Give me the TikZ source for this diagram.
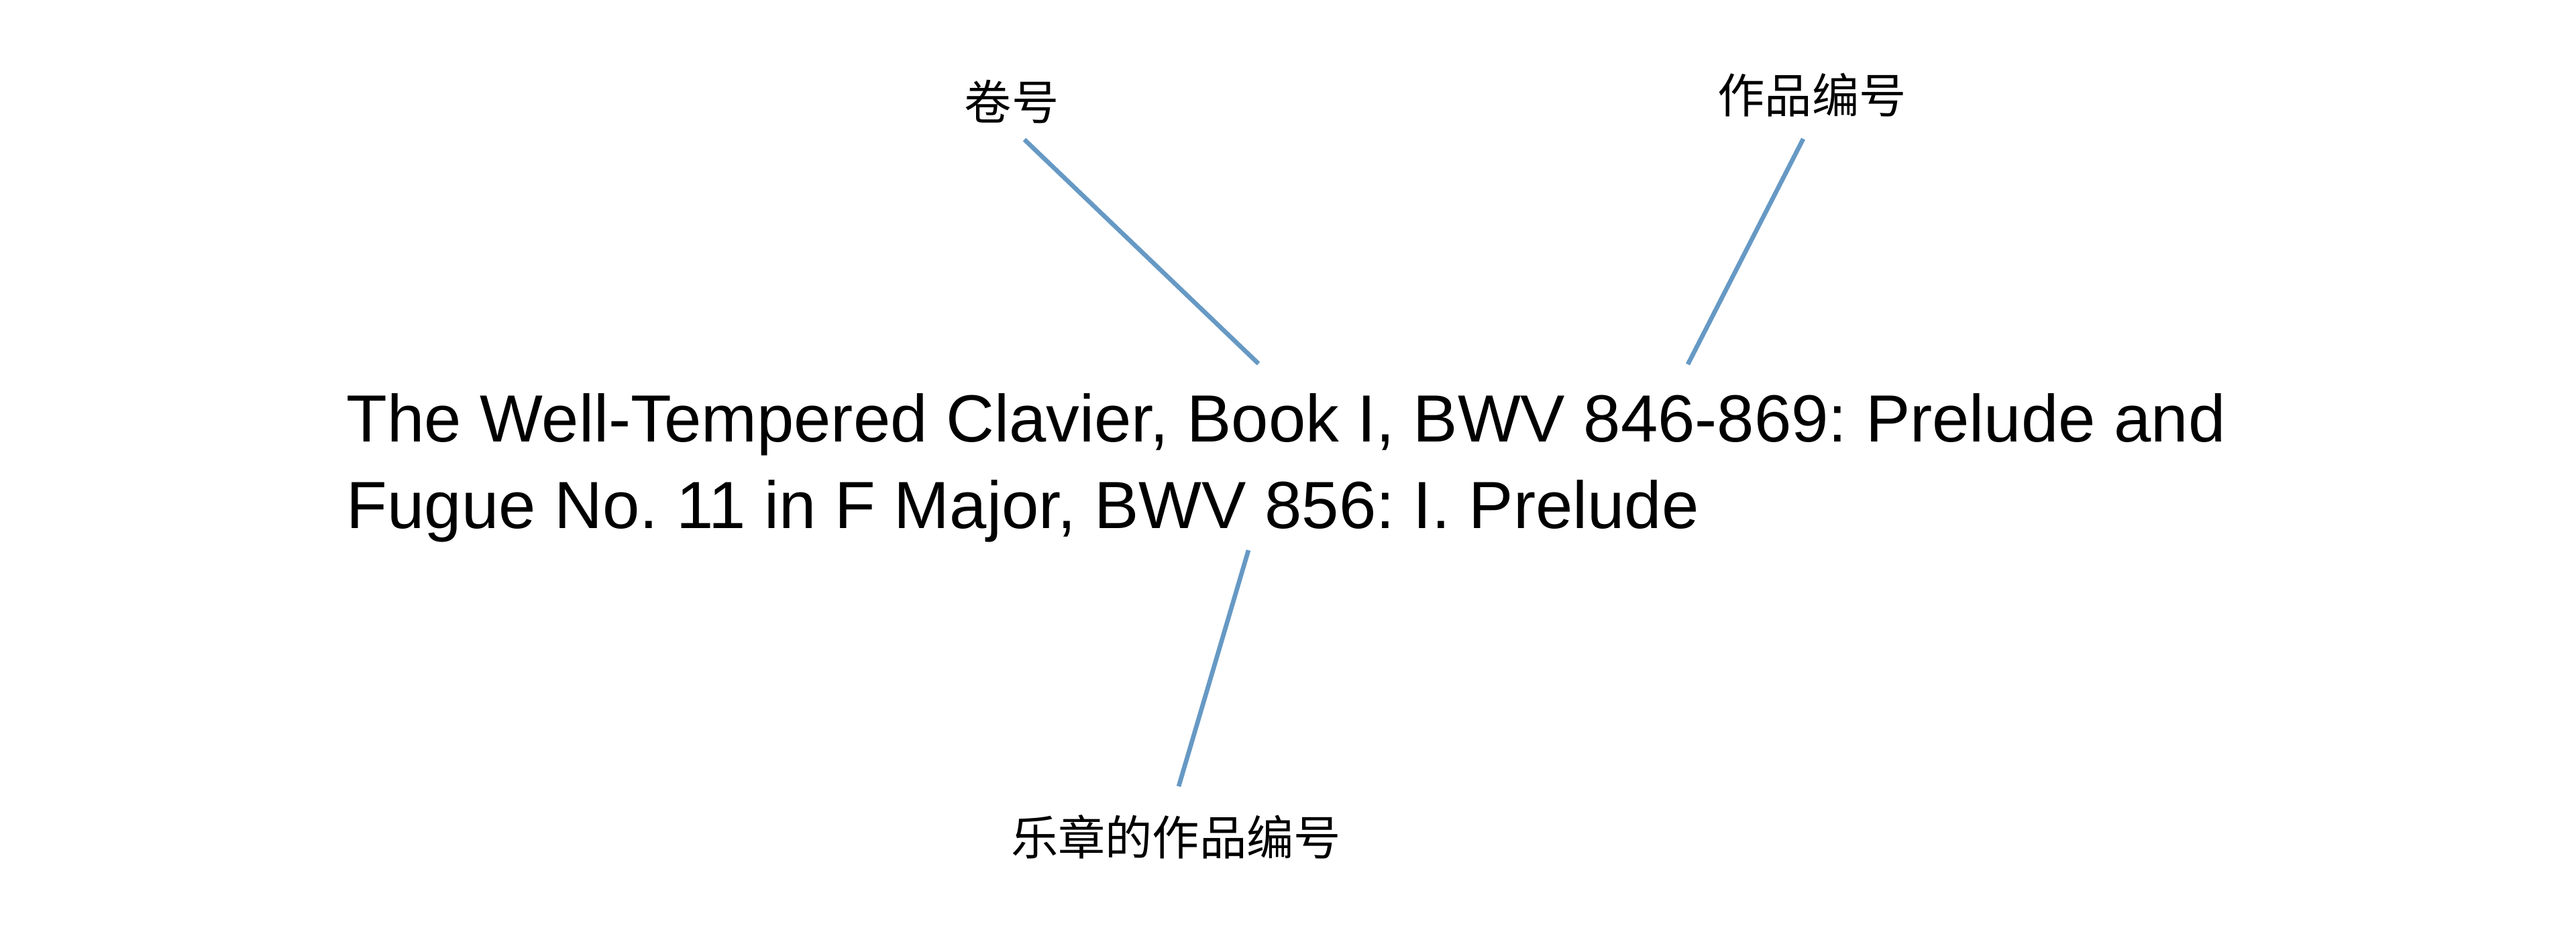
\documentclass[tikz,border=0pt]{standalone}
\usepackage{fontspec}
\setmainfont{Liberation Sans}
\newfontfamily\cjk{Noto Sans CJK SC}
\definecolor{linkblue}{RGB}{102,153,196}

\begin{document}
\frenchspacing
\begin{tikzpicture}[
    titletext/.style={anchor=base west, inner sep=0pt, font=\fontsize{28.3}{34}\selectfont},
    cnlabel/.style={inner sep=0pt, font=\cjk\fontsize{20}{24}\selectfont},
    pointer/.style={draw=linkblue, line width=1.9pt}
]
    \useasboundingbox (0,0) rectangle (38.4,13.91);

    % the title, two lines
    \node[titletext] (line1) at (5.16,7.32) {The Well-Tempered Clavier, Book I, BWV 846-869: Prelude and};
    \node[titletext] (line2) at (5.16,6.03) {Fugue No. 11 in F Major, BWV 856: I. Prelude};

    % the labels
    \node[cnlabel] (vol) at (15.08,12.39) {卷号};
    \node[cnlabel] (work) at (27.01,12.49) {作品编号};
    \node[cnlabel] (move) at (17.53,1.44) {乐章的作品编号};

    % where the lines touch
    \coordinate (volTop) at ([xshift=0.19cm,yshift=-0.56cm]vol.center);
    \coordinate (volPt) at (18.76,8.49);
    \coordinate (workTop) at ([xshift=-0.13cm,yshift=-0.65cm]work.center);
    \coordinate (workPt) at (25.16,8.48);
    \coordinate (movePt) at (18.61,5.71);
    \coordinate (moveTop) at ([xshift=0.04cm,yshift=0.75cm]move.center);

    \draw[pointer] (volTop) -- (volPt);
    \draw[pointer] (workTop) -- (workPt);
    \draw[pointer] (movePt) -- (moveTop);

\end{tikzpicture}
\end{document}
